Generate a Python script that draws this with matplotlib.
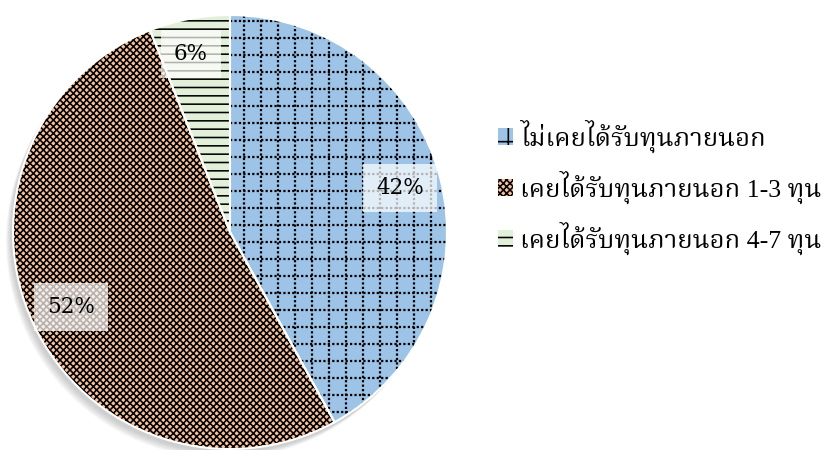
import matplotlib
matplotlib.use("Agg")
import matplotlib.pyplot as plt
import numpy as np
from matplotlib.patches import Wedge, Circle, Patch

# Latin digits from Liberation Serif, Thai falls back to Noto Serif Thai
plt.rcParams["font.family"] = ["Liberation Serif", "Noto Serif Thai", "DejaVu Serif"]
plt.rcParams["hatch.color"] = "black"
plt.rcParams["hatch.linewidth"] = 1.15

labels = ["ไม่เคยได้รับทุนภายนอก", "เคยได้รับทุนภายนอก 1-3 ทุน", "เคยได้รับทุนภายนอก 4-7 ทุน"]
shares = [42, 52, 6]
colors = ["#9DC3E6", "#F6C09C", "#E2F0D9"]
hatches = [None, "xxxxx", "--"]

fig = plt.figure(figsize=(8.35, 4.5), dpi=100)
ax = fig.add_axes([13 / 835, 1 / 450, 434 / 835, 434 / 450])

# soft shadow under the pie
for k in range(6):
    ax.add_patch(Circle((-0.012 - 0.004 * k, -0.018 - 0.005 * k), 1.0,
                        color="gray", alpha=0.07, lw=0, zorder=0, clip_on=False))

wedges, _, pcts = ax.pie(shares, colors=colors, startangle=90, counterclock=False,
                         radius=1, autopct="%d%%", pctdistance=0.81,
                         textprops=dict(fontsize=15.5, family="DejaVu Serif"))
ax.set_aspect("equal")
ax.set_xlim(-1, 1)
ax.set_ylim(-1, 1)
ax.axis("off")

for w, h in zip(wedges, hatches):
    w.set_zorder(1)
    w.set_clip_on(False)
    if h:
        w.set_hatch(h)

# dotted grid inside the blue slice
step = 17 / 217
for xv in np.arange(0.0645, 1.0, step):
    ln, = ax.plot([xv, xv], [-1, 1], color="black", lw=1.6, ls=(0, (1, 1)), zorder=2)
    ln.set_clip_path(wedges[0])
for yv in np.arange(1 - 6 / 217, -1.0, -step):
    ln, = ax.plot([0, 1], [yv, yv], color="black", lw=1.6, ls=(0, (1, 1)), zorder=2)
    ln.set_clip_path(wedges[0])

# white separators and rim
for w in wedges:
    ax.add_patch(Wedge(w.center, w.r, w.theta1, w.theta2, fill=False,
                       edgecolor="white", lw=1.5, zorder=3, clip_on=False))

pcts[2].set_position((-0.18, 0.82))
for t in pcts:
    t.set_zorder(5)
    t.set_bbox(dict(boxstyle="square,pad=0.6", facecolor="white", alpha=0.7, lw=0))

handles = [Patch(facecolor=c, hatch=h if h else "+") for c, h in zip(colors, hatches)]
fig.legend(handles, labels, loc="center left", bbox_to_anchor=(498 / 835, 0.584),
           frameon=False, fontsize=18.5, handlelength=0.6, handleheight=0.65,
           handletextpad=0.25, labelspacing=0.7, borderpad=0, borderaxespad=0)

fig.savefig("out.png", dpi=100)
